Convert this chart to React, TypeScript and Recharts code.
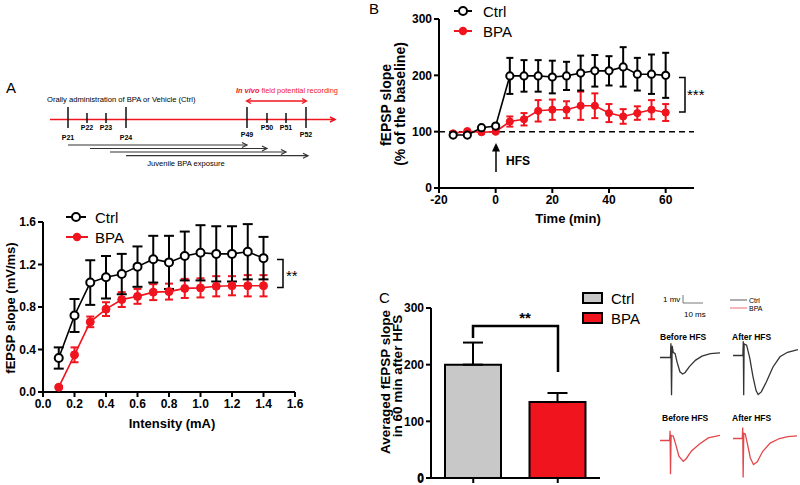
import { LineChart, Line, XAxis, YAxis, ErrorBar, ReferenceLine, ComposedChart, Bar, Cell } from "recharts";

const FONT = 'Arial, "Liberation Sans", Helvetica, sans-serif';
const RED = "#f0141e";
const GREY = "#c8c8c8";
const TRACE_RED = "#e2474b";

// A: input/output curve
const intensity = [0.1, 0.2, 0.3, 0.4, 0.5, 0.6, 0.7, 0.8, 0.9, 1.0, 1.1, 1.2, 1.3, 1.4];
const ioCtrl = [0.32, 0.72, 1.03, 1.08, 1.11, 1.18, 1.25, 1.22, 1.28, 1.31, 1.3, 1.3, 1.32, 1.26];
const ioCtrlSem = [0.1, 0.155, 0.21, 0.2, 0.19, 0.19, 0.22, 0.25, 0.23, 0.26, 0.26, 0.26, 0.26, 0.2];
const ioBpa = [0.045, 0.35, 0.66, 0.78, 0.87, 0.9, 0.94, 0.945, 0.975, 0.98, 0.995, 1.0, 1.0, 1.0];
const ioBpaSem = [0.01, 0.07, 0.05, 0.065, 0.07, 0.07, 0.075, 0.075, 0.09, 0.09, 0.095, 0.09, 0.1, 0.1];
const ioTicksX = [0, 0.2, 0.4, 0.6, 0.8, 1.0, 1.2, 1.4, 1.6];
const ioTicksY = [0, 0.4, 0.8, 1.2, 1.6];

// B: LTP time course
const timeMin = [-15, -10, -5, 0, 5, 10, 15, 20, 25, 30, 35, 40, 45, 50, 55, 60];
const ltpCtrl = [94, 94, 107, 110, 199, 199, 199, 197, 199, 204, 208, 208, 215, 202, 202, 200];
const ltpCtrlSem = [2, 2, 2, 3, 32, 28, 28, 29, 25, 31, 28, 26, 35, 29, 35, 40];
const ltpBpa = [97, 101, 99, 100, 118, 122, 137, 139, 139, 146, 146, 133, 127, 133, 139, 134];
const ltpBpaSem = [2, 2, 2, 2, 9, 11, 19, 18, 15, 25, 22, 16, 13, 12, 17, 15];
const ltpTicksX = [-20, 0, 20, 40, 60];
const ltpTicksY = [0, 100, 200, 300];

// C: averaged slope 60 min after HFS
const groups = ["Ctrl", "BPA"];
const avgSlope = [200, 134];
const avgSem = [39, 16];
const barTicksY = [0, 100, 200, 300];

// representative traces [ms, mV]
const ctrlBefore = [[0, 0], [5.0, 0], [5.2, 1.1], [5.5, -2.9], [5.8, 0.9], [6.3, 0.4], [7.2, 0.3], [8.2, -0.4], [9.5, -1.1], [10.8, -1.27], [12, -1.15], [14, -0.7], [17, -0.2], [20, 0.1], [24, 0.3], [28.6, 0.35]];
const ctrlAfter = [[0, 0], [4.7, 0], [4.9, 1.1], [5.1, -3.05], [5.3, 0.9], [6.5, 0.8], [8, -0.2], [9.5, -1.6], [11, -2.7], [12, -3.0], [13.5, -2.8], [16, -2.0], [19, -0.9], [22.4, -0.1], [26, 0.25], [31, 0.45]];
const bpaBefore = [[0, 0], [4.6, 0], [4.8, 0.75], [5.0, -2.6], [5.3, 0.4], [6.3, 0.35], [7.5, -0.3], [9, -1.2], [11.1, -1.6], [12.5, -1.4], [15, -0.8], [19, -0.25], [23, 0.2], [28.6, 0.4]];
const bpaAfter = [[0, 0], [4.4, 0], [4.6, 0.85], [4.8, -3.0], [5.1, 0.4], [5.8, 0.35], [6.8, -0.4], [8.2, -1.5], [9.7, -2.0], [11.5, -1.8], [14, -1.0], [17.6, -0.35], [22, 0.0], [26, 0.15], [30.3, 0.2]];

// timeline schematic
const days = ["P21", "P22", "P23", "P24", "P49", "P50", "P51", "P52"];
const dayX = [68, 87, 106, 126, 247, 267, 286, 306];
const bigDay = [true, false, false, true, true, false, false, true];

const ioData = intensity.map((x, i) => ({ x, ctrl: ioCtrl[i], ctrlErr: ioCtrlSem[i], bpa: ioBpa[i], bpaErr: ioBpaSem[i] }));
const ltpData = timeMin.map((x, i) => ({ x, ctrl: ltpCtrl[i], ctrlErr: ltpCtrlSem[i], bpa: ltpBpa[i], bpaErr: ltpBpaSem[i] }));
// groups sit at the centre of unit slots on a numeric axis
const barData = groups.map((g, i) => ({ g, pos: i + 0.5, v: avgSlope[i], err: [0, avgSem[i]] }));
const barSlots = barData.map((d) => d.pos);

const tickStyle = { fill: "#000", fontSize: 12, fontWeight: 700, fontFamily: FONT };
const axisStyle = { stroke: "#000", strokeWidth: 2 };

function Trace({ pts, left, top, width, color }: { pts: number[][]; left: number; top: number; width: number; color: string }) {
  const data = pts.map(([t, v]) => ({ t, v }));
  return (
    <div style={{ position: "absolute", left, top }}>
      <LineChart width={width} height={65} data={data} margin={{ top: 0, right: 0, bottom: 0, left: 0 }}>
        <XAxis type="number" dataKey="t" domain={[0, pts[pts.length - 1][0]]} hide />
        <YAxis type="number" domain={[-3.5, 1.5]} hide />
        <Line type="linear" dataKey="v" stroke={color} strokeWidth={1.3} dot={false} isAnimationActive={false} />
      </LineChart>
    </div>
  );
}

function Arrow({ x1, x2, y, color, w = 1.2 }: { x1: number; x2: number; y: number; color: string; w?: number }) {
  return (
    <g stroke={color} strokeWidth={w} fill="none">
      <line x1={x1} y1={y} x2={x2} y2={y} />
      <polyline points={`${x2 - 5},${y - 2.5} ${x2},${y} ${x2 - 5},${y + 2.5}`} />
    </g>
  );
}

function Overlay() {
  const t = { fontFamily: FONT, fill: "#000" };
  return (
    <svg width={800} height={485} style={{ position: "absolute", left: 0, top: 0, pointerEvents: "none" }}>
      {/* panel letters */}
      <text x={6} y={93} fontSize={15} {...t}>A</text>
      <text x={369} y={14} fontSize={15} {...t}>B</text>
      <text x={379} y={303} fontSize={15} {...t}>C</text>

      {/* timeline */}
      <text x={47} y={102} fontSize={7.6} {...t}>Orally administration of BPA or Vehicle (Ctrl)</text>
      <text x={236} y={93} fontSize={7.4} fontFamily={FONT} fill={RED}>
        <tspan fontWeight={700} fontStyle="italic">In vivo</tspan> field potential recording
      </text>
      <g stroke={RED} strokeWidth={1.3} fill="none">
        <line x1={247} y1={101} x2={306} y2={101} />
        <polyline points="251,98.5 246.5,101 251,103.5" />
        <polyline points="302,98.5 306.5,101 302,103.5" />
      </g>
      <Arrow x1={50} x2={335} y={119.5} color={RED} w={1.5} />
      {days.map((d, i) => (
        <g key={d}>
          <line x1={dayX[i]} x2={dayX[i]} y1={bigDay[i] ? 107 : 113} y2={bigDay[i] ? 128 : 123} stroke="#000" strokeWidth={1.4} />
          <text x={dayX[i]} y={bigDay[i] ? (i < 4 ? 140 : 137) : 130} fontSize={7} fontWeight={700} textAnchor="middle" {...t}>{d}</text>
        </g>
      ))}
      <Arrow x1={68} x2={247} y={145} color="#333" />
      <Arrow x1={90} x2={267} y={148.5} color="#333" />
      <Arrow x1={110} x2={286} y={152} color="#333" />
      <Arrow x1={126} x2={308} y={155.7} color="#333" />
      <text x={186} y={166} fontSize={7.6} textAnchor="middle" {...t}>Juvenile BPA exposure</text>

      {/* A legend / labels */}
      <line x1={66} x2={86} y1={217} y2={217} stroke="#000" strokeWidth={2} />
      <circle cx={76} cy={217} r={4} fill="#fff" stroke="#000" strokeWidth={2} />
      <text x={95} y={222.5} fontSize={15} {...t}>Ctrl</text>
      <line x1={66} x2={88} y1={237} y2={237} stroke={RED} strokeWidth={2} />
      <circle cx={77} cy={237} r={4.2} fill={RED} />
      <text x={95} y={242.5} fontSize={15} {...t}>BPA</text>
      <text transform="translate(15,308) rotate(-90)" fontSize={13} fontWeight={700} textAnchor="middle" {...t}>fEPSP slope (mV/ms)</text>
      <text x={172} y={428} fontSize={13} fontWeight={700} textAnchor="middle" {...t}>Intensity (mA)</text>
      <polyline points="277,259.5 283,259.5 283,287.5 277,287.5" fill="none" stroke="#000" strokeWidth={1.5} />
      <text x={286} y={281} fontSize={15} {...t}>**</text>

      {/* B legend / labels */}
      <line x1={454} x2={472} y1={11} y2={11} stroke="#000" strokeWidth={2} />
      <circle cx={463} cy={11} r={4} fill="#fff" stroke="#000" strokeWidth={2} />
      <text x={483} y={16.5} fontSize={15} {...t}>Ctrl</text>
      <line x1={454} x2={472} y1={31} y2={31} stroke={RED} strokeWidth={2} />
      <circle cx={463} cy={31} r={4.2} fill={RED} />
      <text x={483} y={36.5} fontSize={15} {...t}>BPA</text>
      <text transform="translate(391,105) rotate(-90)" fontSize={14} fontWeight={700} textAnchor="middle" {...t}>fEPSP slope</text>
      <text transform="translate(405,104) rotate(-90)" fontSize={14} fontWeight={700} textAnchor="middle" {...t}>(% of the baseline)</text>
      <text x={568} y={223} fontSize={13} fontWeight={700} textAnchor="middle" {...t}>Time (min)</text>
      <line x1={496} x2={496} y1={172} y2={148} stroke="#000" strokeWidth={1.5} />
      <polygon points="492,151.5 496,143 500,151.5" fill="#000" />
      <text x={506} y={165} fontSize={12} fontWeight={700} {...t}>HFS</text>
      <polyline points="679,77.5 685,77.5 685,112 679,112" fill="none" stroke="#000" strokeWidth={1.5} />
      <text x={687} y={100} fontSize={15} {...t}>***</text>

      {/* C legend / labels */}
      <rect x={583} y={293} width={19} height={10} fill={GREY} stroke="#000" strokeWidth={2} />
      <text x={611} y={304} fontSize={15} {...t}>Ctrl</text>
      <rect x={583} y={313} width={19} height={10} fill={RED} stroke="#000" strokeWidth={2} />
      <text x={611} y={324} fontSize={15} {...t}>BPA</text>
      <text transform="translate(390,382) rotate(-90)" fontSize={13.5} fontWeight={700} textAnchor="middle" {...t}>Averaged fEPSP slope</text>
      <text transform="translate(402,376) rotate(-90)" fontSize={13.5} fontWeight={700} textAnchor="middle" {...t}>in 60 min after HFS</text>
      <polyline points="473,338 473,326 558,326 558,372" fill="none" stroke="#000" strokeWidth={2.5} />
      <text x={525} y={323} fontSize={15} fontWeight={700} textAnchor="middle" {...t}>**</text>
      {/* bottom tick label of C, which the axis leaves out at the page edge */}
      <text x={424} y={482.5} fontSize={12} fontWeight={700} textAnchor="end" {...t}>0</text>

      {/* traces scale bar & legend */}
      <text x={663} y={302} fontSize={8} {...t}>1 mv</text>
      <polyline points="683,295 683,303 703,303" fill="none" stroke="#555" strokeWidth={0.8} />
      <text x={684} y={317} fontSize={8} {...t}>10 ms</text>
      <line x1={730} x2={747} y1={300} y2={300} stroke="#333" strokeWidth={0.8} />
      <text x={749} y={302.5} fontSize={7} {...t}>Ctrl</text>
      <line x1={730} x2={747} y1={308} y2={308} stroke={TRACE_RED} strokeWidth={0.8} />
      <text x={749} y={310.5} fontSize={7} {...t}>BPA</text>
      <text x={660} y={340} fontSize={8.5} fontWeight={700} {...t}>Before HFS</text>
      <text x={732} y={340} fontSize={8.5} fontWeight={700} {...t}>After HFS</text>
      <text x={662} y={421} fontSize={8.5} fontWeight={700} {...t}>Before HFS</text>
      <text x={732} y={421} fontSize={8.5} fontWeight={700} {...t}>After HFS</text>
    </svg>
  );
}

export default function App() {
  return (
    <div style={{ position: "absolute", left: 0, top: 0, width: 800, height: 485, background: "#fff", overflow: "hidden", fontFamily: FONT }}>
      {/* A */}
      <div style={{ position: "absolute", left: 0, top: 200 }}>
        <LineChart width={340} height={240} data={ioData} margin={{ top: 22, right: 45, bottom: 0, left: 0 }}>
          <XAxis type="number" dataKey="x" domain={[0, 1.6]} ticks={ioTicksX} interval={0} tickFormatter={(v: number) => v.toFixed(1)}
            tick={tickStyle} axisLine={axisStyle} tickLine={axisStyle} tickSize={5} height={48} />
          <YAxis type="number" domain={[0, 1.6]} ticks={ioTicksY} interval={0} tickFormatter={(v: number) => v.toFixed(1)}
            tick={tickStyle} axisLine={axisStyle} tickLine={axisStyle} tickSize={5} width={43} />
          <Line type="linear" dataKey="bpa" stroke={RED} strokeWidth={1.6} isAnimationActive={false}
            dot={{ r: 4, fill: RED, stroke: RED, strokeWidth: 1 }}>
            <ErrorBar dataKey="bpaErr" direction="y" width={4} stroke={RED} strokeWidth={2} />
          </Line>
          <Line type="linear" dataKey="ctrl" stroke="#000" strokeWidth={1.6} isAnimationActive={false}
            dot={{ r: 4, fill: "#fff", stroke: "#000", strokeWidth: 2 }}>
            <ErrorBar dataKey="ctrlErr" direction="y" width={5} stroke="#000" strokeWidth={2} />
          </Line>
        </LineChart>
      </div>

      {/* B */}
      <div style={{ position: "absolute", left: 395, top: 0 }}>
        <LineChart width={330} height={230} data={ltpData} margin={{ top: 19, right: 31, bottom: 0, left: 0 }}>
          <XAxis type="number" dataKey="x" domain={[-20, 70]} ticks={ltpTicksX} interval={0}
            tick={tickStyle} axisLine={axisStyle} tickLine={axisStyle} tickSize={5} height={42} />
          <YAxis type="number" domain={[0, 300]} ticks={ltpTicksY} interval={0}
            tick={tickStyle} axisLine={axisStyle} tickLine={axisStyle} tickSize={5} width={44} />
          <ReferenceLine y={100} stroke="#000" strokeWidth={1.5} strokeDasharray="6 4" />
          <Line type="linear" dataKey="bpa" stroke={RED} strokeWidth={1.6} isAnimationActive={false}
            dot={{ r: 3.6, fill: RED, stroke: RED, strokeWidth: 1 }}>
            <ErrorBar dataKey="bpaErr" direction="y" width={3.5} stroke={RED} strokeWidth={2} />
          </Line>
          <Line type="linear" dataKey="ctrl" stroke="#000" strokeWidth={1.6} isAnimationActive={false}
            dot={{ r: 3.6, fill: "#fff", stroke: "#000", strokeWidth: 2 }}>
            <ErrorBar dataKey="ctrlErr" direction="y" width={3.5} stroke="#000" strokeWidth={2} />
          </Line>
        </LineChart>
      </div>

      {/* C */}
      <div style={{ position: "absolute", left: 385, top: 290 }}>
        <ComposedChart width={230} height={215} data={barData} margin={{ top: 18, right: 15, bottom: 0, left: 0 }}>
          <XAxis type="number" dataKey="pos" domain={[0, groups.length]} ticks={barSlots} interval={0} tickFormatter={() => ""}
            axisLine={axisStyle} tickLine={axisStyle} tickSize={5} height={27} />
          <YAxis type="number" domain={[0, 300]} ticks={barTicksY} interval={0}
            tick={tickStyle} axisLine={axisStyle} tickLine={axisStyle} tickSize={5} width={46} />
          <Bar dataKey="v" barSize={56} stroke="#000" strokeWidth={2} isAnimationActive={false}>
            {barData.map((d, i) => <Cell key={d.g} fill={i === 0 ? GREY : RED} />)}
            <ErrorBar dataKey="err" direction="y" width={10} stroke="#000" strokeWidth={2} />
          </Bar>
        </ComposedChart>
      </div>

      <Trace pts={ctrlBefore} left={660} top={338} width={60} color="#333" />
      <Trace pts={ctrlAfter} left={733} top={336} width={65} color="#333" />
      <Trace pts={bpaBefore} left={660} top={421} width={60} color={TRACE_RED} />
      <Trace pts={bpaAfter} left={733} top={419} width={64} color={TRACE_RED} />

      <Overlay />
    </div>
  );
}
